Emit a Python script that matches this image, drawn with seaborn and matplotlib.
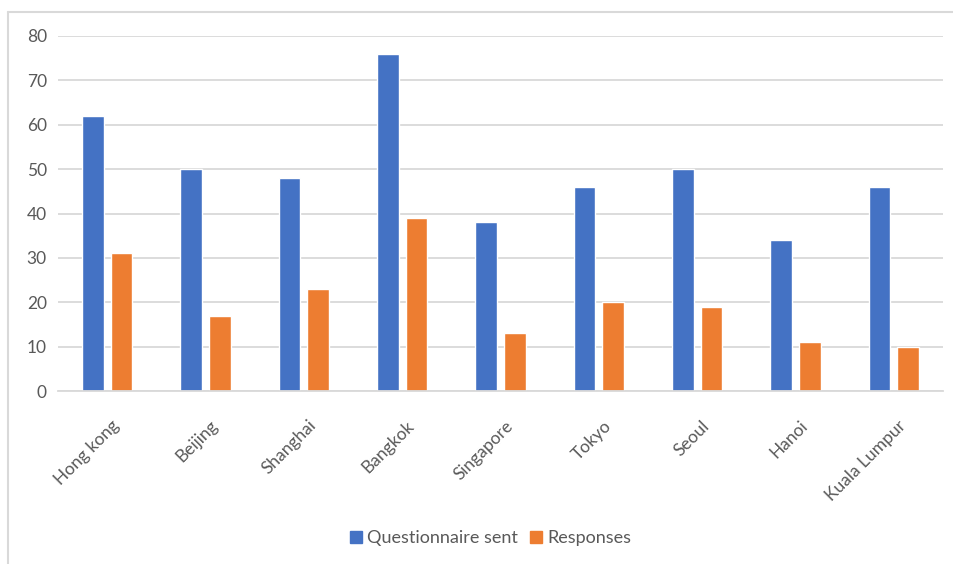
import matplotlib.pyplot as plt
import matplotlib.transforms as mtransforms
import pandas as pd
import seaborn as sns
from matplotlib.lines import Line2D

cities = ["Hong kong", "Beijing", "Shanghai", "Bangkok", "Singapore",
          "Tokyo", "Seoul", "Hanoi", "Kuala Lumpur"]
sent = [62, 50, 48, 76, 38, 46, 50, 34, 46]
responses = [31, 17, 23, 39, 13, 20, 19, 11, 10]
series_names = ["Questionnaire sent", "Responses"]
yticks = [0, 10, 20, 30, 40, 50, 60, 70, 80]

df = pd.DataFrame({
    "city": cities * 2,
    "value": sent + responses,
    "series": [series_names[0]] * len(cities) + [series_names[1]] * len(cities),
})

sns.set_style("white")
plt.rcParams["font.family"] = ["Lato", "DejaVu Sans"]

fig = plt.figure(figsize=(9.54, 5.64), dpi=100)
ax = fig.add_axes([58 / 954, 1 - 391 / 564, (943 - 58) / 954, (391 - 36) / 564])

palette = {series_names[0]: "#4472C4", series_names[1]: "#ED7D31"}
sns.barplot(data=df, x="city", y="value", hue="series", palette=palette,
            width=0.58, gap=0.245, ax=ax, legend=False, saturation=1)

ax.set_ylim(0, 80)
ax.set_yticks(yticks)
ax.set_xlim(-0.5, len(cities) - 0.5)
ax.grid(axis="y", color="#D9D9D9", lw=1.3)
ax.set_axisbelow(True)
for s in ["top", "right", "left"]:
    ax.spines[s].set_visible(False)
ax.spines["bottom"].set_color("#D9D9D9")
ax.spines["bottom"].set_linewidth(1.3)
ax.set_xlabel("")
ax.set_ylabel("")
ax.tick_params(length=0, labelsize=12.5, colors="#595959", pad=8)
ax.tick_params(axis="x", pad=19)
shift = mtransforms.ScaledTranslation(4 / 100, 0, fig.dpi_scale_trans)
for lab in ax.get_xticklabels():
    lab.set_rotation(45)
    lab.set_ha("right")
    lab.set_rotation_mode("anchor")
    lab.set_transform(lab.get_transform() + shift)

handles = [Line2D([], [], marker="s", ls="", color=palette[n], markersize=9)
           for n in series_names]
fig.legend(handles, series_names, loc="center", bbox_to_anchor=(490 / 954, 1 - 538 / 564),
           ncol=2, frameon=False, fontsize=13, labelcolor="#595959",
           handletextpad=0.2, columnspacing=0.6, handlelength=0.8)

# outer chart frame
fig.add_artist(Line2D([8 / 954, 8 / 954], [0, 1 - 12 / 564], color="#D9D9D9",
                      lw=1.5, transform=fig.transFigure))
fig.add_artist(Line2D([8 / 954, 1], [1 - 12 / 564, 1 - 12 / 564], color="#D9D9D9",
                      lw=1.5, transform=fig.transFigure))

fig.savefig("out.png", dpi=100)
